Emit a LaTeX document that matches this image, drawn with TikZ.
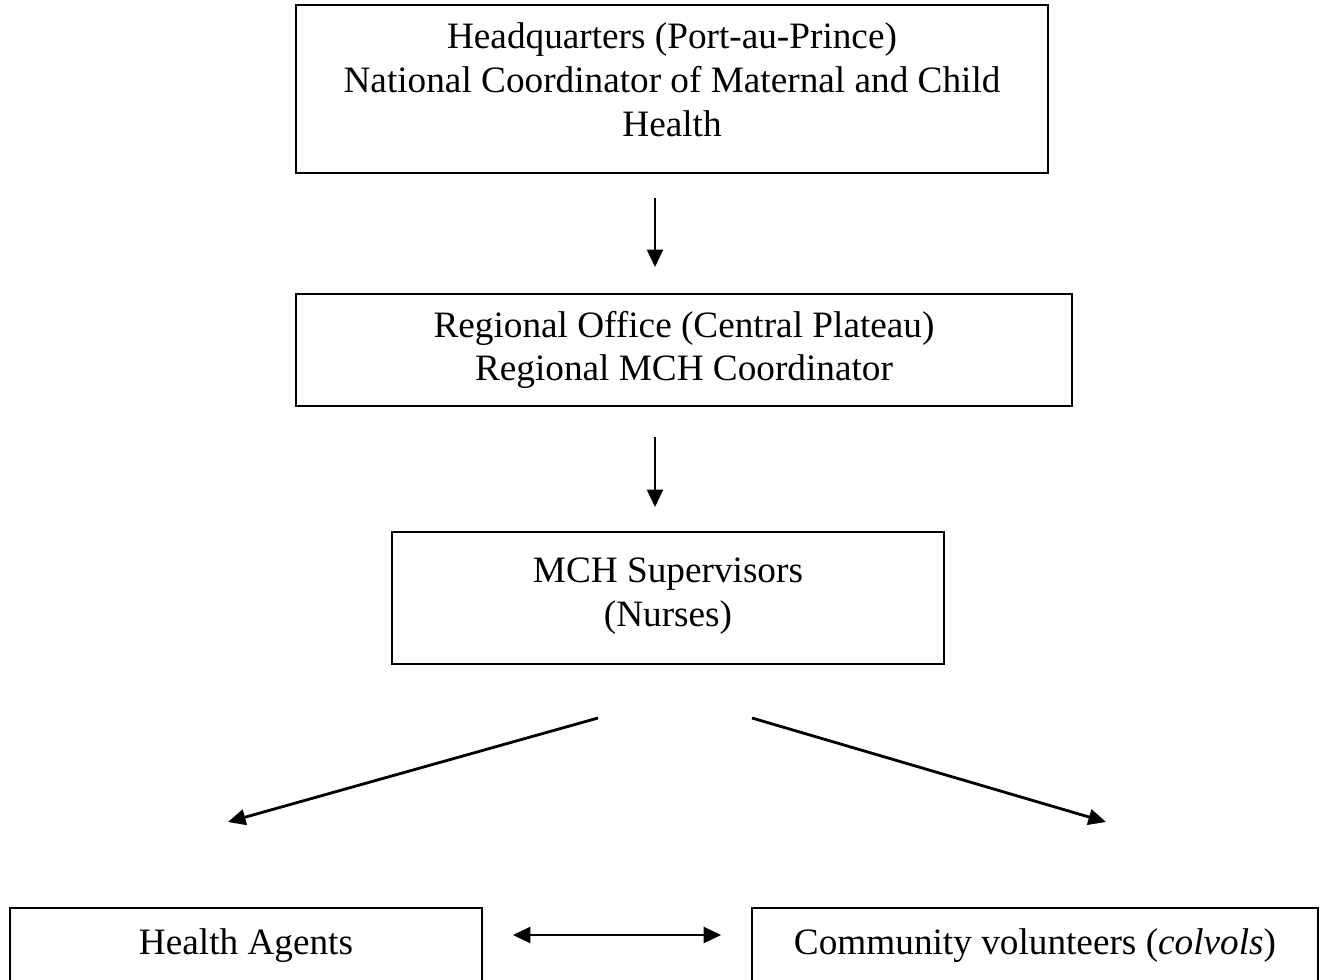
\documentclass[tikz,border=0pt]{standalone}
\usepackage{fontspec}
\setmainfont{Liberation Serif}
\usepackage{tikz}
\usetikzlibrary{arrows.meta}

\begin{document}
\begin{tikzpicture}[x=0.02cm,y=-0.02cm,
   box/.style={draw,line width=1.1pt,align=center,inner sep=0pt,
     font=\fontsize{21.2}{24.8}\selectfont},
   tip/.tip={Triangle[length=10pt,width=9pt]},
   flow/.style={-tip,line width=1.6pt}]
  \useasboundingbox (0,0) rectangle (1330,980);
  \clip (0,0) rectangle (1330,980);
  \node[box,minimum width=15.04cm,minimum height=3.36cm] (hq) at (672,89)
    {Headquarters (Port-au-Prince)\\National Coordinator of Maternal and Child\\Health\\[-14pt]};
  \node[box,minimum width=15.52cm,minimum height=2.24cm] (reg) at (684,350)
    {Regional Office (Central Plateau)\\Regional MCH Coordinator};
  \node[box,minimum width=11.04cm,minimum height=2.64cm] (mch) at (668,598)
    {MCH Supervisors\\(Nurses)\\[-18pt]};
  \node[box,minimum width=9.44cm,minimum height=1.52cm] (ha) at (246,946) {Health Agents};
  \node[box,minimum width=11.32cm,minimum height=1.52cm] (cv) at (1035,946)
    {Community volunteers (\textit{colvols})};
  % loose ends of the slanted arrows
  \coordinate (mchL) at (598,718);
  \coordinate (mchR) at (752,718);
  \coordinate (haTip) at (228,822);
  \coordinate (cvTip) at (1106,822);
  \draw[flow,shorten <=24*0.567pt,shorten >=26*0.567pt] (hq.south -| 655,0) -- (reg.north -| 655,0);
  \draw[flow,shorten <=30*0.567pt,shorten >=24*0.567pt] (reg.south -| 655,0) -- (mch.north -| 655,0);
  \draw[flow] (mchL) -- (haTip);
  \draw[flow] (mchR) -- (cvTip);
  \draw[flow,tip-tip,shorten <=30*0.567pt,shorten >=30*0.567pt]
    ([shift={(0,-11)}]ha.east) -- ([shift={(0,-11)}]cv.west);
\end{tikzpicture}
\end{document}
